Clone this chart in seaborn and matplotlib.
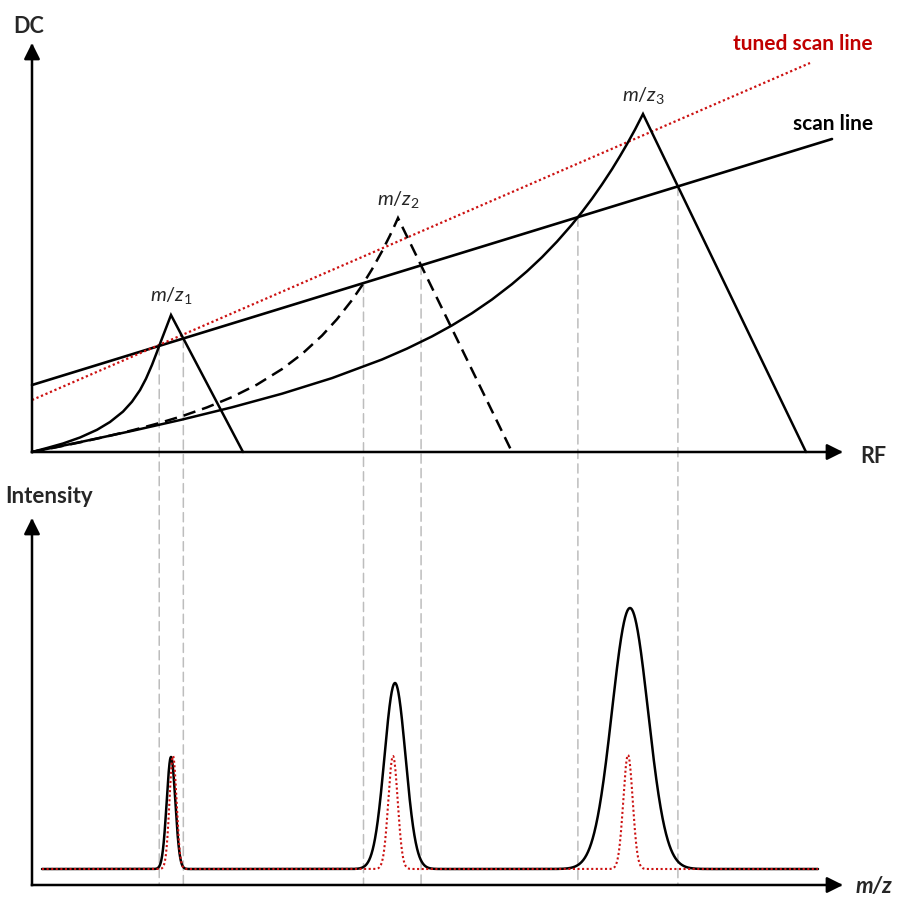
import numpy as np
import matplotlib
matplotlib.use("Agg")
import matplotlib.pyplot as plt
from matplotlib.patches import ConnectionPatch
import seaborn as sns

# ---- stability diagram (RF, DC) ----
# left (curved) edges of the three stability regions, ending below the apex
mz1_left_rf = [0.0, 0.15, 0.31, 0.48, 0.65, 0.78, 0.91, 1.00, 1.08, 1.14, 1.20, 1.25, 1.29, 1.34]
mz1_left_dc = [0.0, 0.04, 0.085, 0.145, 0.222, 0.30, 0.404, 0.503, 0.619, 0.733, 0.871, 1.001, 1.109, 1.239]
mz2_left_rf = [0.0, 0.25, 0.50, 0.75, 1.00, 1.25, 1.50, 1.75, 2.00, 2.25, 2.50, 2.70, 2.90,
               3.05, 3.20, 3.30, 3.40, 3.50, 3.58, 3.62]
mz2_left_dc = [0.0, 0.049, 0.101, 0.156, 0.216, 0.283, 0.358, 0.446, 0.549, 0.674, 0.829, 0.980,
               1.164, 1.328, 1.519, 1.665, 1.827, 2.007, 2.166, 2.251]
mz3_left_rf = [0.0, 0.5, 1.0, 1.5, 2.0, 2.5, 3.0, 3.5, 3.75, 4.0, 4.2, 4.4, 4.6, 4.8, 4.95,
               5.1, 5.25, 5.4, 5.5, 5.6, 5.7, 5.8, 5.88, 5.95, 6.03]
mz3_left_dc = [0.0, 0.103, 0.211, 0.324, 0.447, 0.583, 0.739, 0.925, 1.034, 1.156, 1.266, 1.388,
               1.525, 1.679, 1.807, 1.948, 2.104, 2.275, 2.400, 2.533, 2.676, 2.828, 2.959,
               3.079, 3.224]

apex_rf = [1.39, 3.66, 6.11]
apex_dc = [1.37, 2.34, 3.38]
foot_rf = [2.11, 4.80, 7.74]
region_labels = [r"$\mathit{m/z_1}$", r"$\mathit{m/z_2}$", r"$\mathit{m/z_3}$"]

scan_rf = [0.0, 8.00]
scan_dc = [0.67, 3.13]
tuned_rf = [0.0, 7.78]
tuned_dc = [0.52, 3.89]

# ---- mass spectrum ----
mz_range = [0.10, 7.86]
peak_pos = [1.39, 3.63, 5.98]
peak_height = [1.12, 1.86, 2.61]
peak_width = [0.043, 0.105, 0.18]
tuned_pos = [1.41, 3.61, 5.96]
tuned_height = [1.13, 1.13, 1.14]
tuned_width = [0.035, 0.047, 0.047]

sns.set_theme(style="white")
plt.rcParams["font.family"] = ["Lato", "DejaVu Sans"]
plt.rcParams["mathtext.fontset"] = "custom"
plt.rcParams["mathtext.rm"] = "Lato"
plt.rcParams["mathtext.it"] = "Lato:italic"
plt.rcParams["mathtext.bf"] = "Lato:bold"

W, H = 898, 899
fig = plt.figure(figsize=(W / 100, H / 100), dpi=100)
fig.patch.set_facecolor("white")


def add_px_axes(left, top, right, bottom):
    ax = fig.add_axes([left / W, 1 - bottom / H, (right - left) / W, (bottom - top) / H])
    ax.set_axis_off()
    ax.patch.set_alpha(0)
    return ax


ax_top = add_px_axes(22, 36, 862, 462)
ax_top.set_xlim(-0.10, 8.30)
ax_top.set_ylim(-0.10, 4.16)

ax_bot = add_px_axes(22, 505, 862, 895)
ax_bot.set_xlim(-0.10, 8.30)
ax_bot.set_ylim(-0.26, 3.64)

BLACK = "black"
RED = "#CC1111"
LW = 1.8
arrow_kw = dict(arrowstyle="-|>,head_length=0.4,head_width=0.2", mutation_scale=24,
                lw=LW, color=BLACK, shrinkA=0, shrinkB=0, capstyle="projecting")

# axes arrows
ax_top.annotate("", xy=(0, 4.09), xytext=(0, 0), arrowprops=arrow_kw)
ax_top.annotate("", xy=(8.11, 0), xytext=(0, 0), arrowprops=arrow_kw)
axis_mz = -0.16
ax_bot.annotate("", xy=(0, 3.51), xytext=(0, axis_mz), arrowprops=arrow_kw)
ax_bot.annotate("", xy=(8.11, axis_mz), xytext=(0, axis_mz), arrowprops=arrow_kw)

# scan lines
sns.lineplot(x=scan_rf, y=scan_dc, ax=ax_top, color=BLACK, lw=1.9,
             estimator=None, sort=False)
sns.lineplot(x=tuned_rf, y=tuned_dc, ax=ax_top, color=RED, lw=1.6,
             estimator=None, sort=False)
ax_top.lines[-1].set_linestyle((0, (1, 1.2)))

# stability regions
lefts = [(mz1_left_rf, mz1_left_dc), (mz2_left_rf, mz2_left_dc), (mz3_left_rf, mz3_left_dc)]
boundaries = []
for i, (lrf, ldc) in enumerate(lefts):
    rf = np.array(list(lrf) + [apex_rf[i], foot_rf[i]])
    dc = np.array(list(ldc) + [apex_dc[i], 0.0])
    boundaries.append((rf, dc))
    sns.lineplot(x=rf, y=dc, ax=ax_top, color=BLACK, lw=LW, estimator=None, sort=False)
    line = ax_top.lines[-1]
    line.set_solid_joinstyle("miter")
    line.set_dash_joinstyle("miter")
    if i == 1:
        line.set_linestyle((0, (5, 2.8)))
    ax_top.text(apex_rf[i], apex_dc[i] + 0.135, region_labels[i], ha="center",
                va="baseline", fontsize=14.5)


def scan_crossings(rf, dc):
    """RF positions where a boundary polyline crosses the scan line."""
    s = np.interp(rf, scan_rf, scan_dc)
    d = dc - s
    out = []
    for k in range(len(d) - 1):
        if d[k] == 0:
            out.append(rf[k])
        elif d[k] * d[k + 1] < 0:
            t = d[k] / (d[k] - d[k + 1])
            out.append(rf[k] + t * (rf[k + 1] - rf[k]))
    return out


# guide lines from the scan-line crossings down to the m/z axis
for rf, dc in boundaries:
    for x in scan_crossings(rf, dc):
        y = float(np.interp(x, scan_rf, scan_dc))
        con = ConnectionPatch(xyA=(x, y), coordsA="data", axesA=ax_top,
                              xyB=(x, axis_mz), coordsB="data", axesB=ax_bot,
                              color="#BDBDBD", lw=1.1, linestyle=(0, (6, 3.5)),
                              zorder=-1)
        fig.add_artist(con)

# spectrum
mz = np.linspace(mz_range[0], mz_range[1], 4000)


def spectrum(pos, height, width):
    y = np.zeros_like(mz)
    for p, h, w in zip(pos, height, width):
        y += h * np.exp(-0.5 * ((mz - p) / w) ** 2)
    return y


sns.lineplot(x=mz, y=spectrum(peak_pos, peak_height, peak_width), ax=ax_bot,
             color=BLACK, lw=LW, estimator=None, sort=False)
sns.lineplot(x=mz, y=spectrum(tuned_pos, tuned_height, tuned_width), ax=ax_bot,
             color=RED, lw=1.5, estimator=None, sort=False)
ax_bot.lines[-1].set_linestyle((0, (1, 1.2)))

# axis titles and line labels
ax_top.text(-0.03, 4.19, "DC", ha="center", va="baseline", fontsize=15.5, fontweight="bold")
ax_top.text(8.28, -0.11, "RF", ha="left", va="baseline", fontsize=15.5, fontweight="bold")
ax_top.text(8.41, 4.02, "tuned scan line", ha="right", va="baseline", fontsize=15,
            fontweight="bold", color="#C00000")
ax_top.text(8.41, 3.22, "scan line", ha="right", va="baseline", fontsize=15,
            fontweight="bold", color=BLACK)
ax_bot.text(-0.27, 3.66, "Intensity", ha="left", va="baseline", fontsize=16,
            fontweight="bold")
ax_bot.text(8.24, -0.235, "m/z", ha="left", va="baseline", fontsize=16,
            fontweight="bold", fontstyle="italic")

fig.savefig("out.png", dpi=100, facecolor="white")
